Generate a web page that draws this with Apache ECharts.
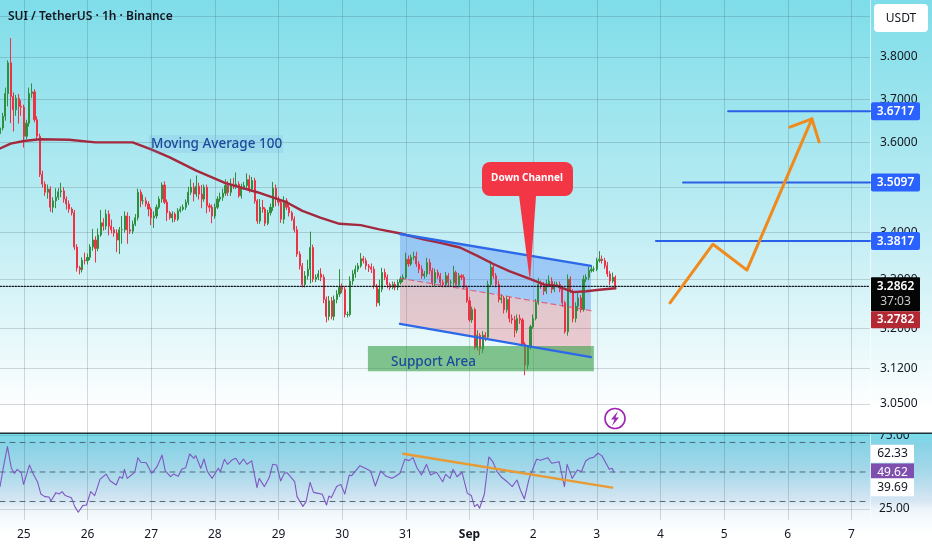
<!DOCTYPE html>
<html><head><meta charset="utf-8">
<style>html,body{margin:0;padding:0;background:#fff}#c{width:932px;height:550px}</style>
<script src="https://cdn.jsdelivr.net/npm/echarts@6/dist/echarts.min.js"></script>
</head><body><div id="c"></div>
<script>
// hours are counted from 25 Aug 00:00; first visible bar is hour -9
const dayHours=[0,24,48,72,96,120,144,168,192,216,240,264,288,312];
const dayLabels=['25','26','27','28','29','30','31','Sep','2','3','4','5','6','7'];
const priceTicks=[3.05,3.12,3.2,3.3,3.4,3.5,3.6,3.7,3.8,3.9];
const rsiTicks=[25,75];
const firstOpen=3.62;
const closes=[3.633,3.660,3.713,3.786,3.706,3.675,3.702,3.683,3.681,3.614,
3.644,3.713,3.717,3.652,3.614,3.528,3.506,3.488,3.495,3.455,
3.469,3.477,3.489,3.491,3.473,3.462,3.451,3.443,3.369,3.325,
3.321,3.341,3.340,3.347,3.369,3.384,3.366,3.395,3.421,3.414,
3.440,3.414,3.406,3.399,3.384,3.406,3.406,3.436,3.406,3.403,
3.418,3.432,3.488,3.469,3.469,3.462,3.451,3.432,3.436,3.455,
3.473,3.504,3.466,3.443,3.432,3.440,3.429,3.447,3.451,3.455,
3.466,3.488,3.499,3.484,3.501,3.484,3.473,3.499,3.458,3.455,
3.436,3.455,3.473,3.477,3.486,3.503,3.488,3.506,3.503,3.506,
3.480,3.499,3.503,3.516,3.495,3.514,3.469,3.425,3.455,3.451,
3.420,3.443,3.455,3.497,3.473,3.466,3.429,3.469,3.455,3.443,
3.429,3.406,3.354,3.329,3.290,3.308,3.322,3.368,3.301,3.305,
3.312,3.305,3.259,3.224,3.256,3.224,3.259,3.270,3.284,3.280,
3.228,3.228,3.297,3.312,3.322,3.329,3.344,3.340,3.329,3.326,
3.322,3.287,3.252,3.280,3.315,3.305,3.290,3.284,3.290,3.284,
3.294,3.301,3.305,3.343,3.333,3.347,3.349,3.333,3.322,3.308,
3.312,3.336,3.319,3.294,3.315,3.308,3.294,3.290,3.308,3.294,
3.294,3.315,3.290,3.308,3.305,3.284,3.256,3.217,3.238,3.161,
3.186,3.158,3.186,3.182,3.290,3.326,3.308,3.290,3.259,3.262,
3.238,3.259,3.220,3.217,3.196,3.220,3.217,3.168,3.126,3.161,
3.203,3.220,3.252,3.290,3.287,3.276,3.290,3.297,3.280,3.290,
3.290,3.280,3.252,3.193,3.301,3.276,3.220,3.245,3.262,3.238,
3.301,3.305,3.319,3.322,3.322,3.340,3.343,3.340,3.329,3.312,
3.297,3.305,3.2862];
// wick lengths in thousandths of a USDT
const wickUp=[6,8,14,6,60,10,8,10,14,6,
8,14,20,6,8,6,8,6,10,6,
8,20,8,18,8,6,8,4,6,6,
4,6,16,8,6,24,8,14,28,10,
10,8,14,6,8,6,30,10,8,30,
8,8,8,6,14,8,6,4,10,6,
6,6,8,6,4,6,4,6,6,6,
6,12,18,10,24,8,20,6,6,6,
6,8,6,10,10,14,10,12,14,26,
6,8,8,14,10,8,6,4,18,16,
4,6,8,14,8,6,4,10,6,6,
4,6,8,6,6,10,20,34,6,6,
8,12,6,6,10,8,8,8,38,8,
6,6,10,8,8,6,12,6,6,4,
8,6,4,20,10,8,6,4,6,6,
6,6,6,14,8,6,10,10,6,8,
6,10,8,6,8,6,6,6,8,6,
6,14,4,6,4,6,4,8,6,4,
10,4,8,6,8,14,6,6,8,8,
4,8,6,8,8,8,8,4,4,4,
4,8,8,14,8,8,10,12,8,6,
6,6,6,4,10,6,4,8,10,6,
8,6,8,8,6,6,17,8,6,8,
6,10,4];
const wickDown=[8,6,10,30,62,50,14,40,20,26,
6,8,10,6,8,6,8,8,14,10,
12,16,6,12,8,12,8,6,6,8,
10,6,8,8,6,8,30,6,4,10,
8,20,8,8,26,30,30,6,30,6,
6,4,6,14,8,6,16,16,22,6,
4,8,4,18,4,10,6,4,4,4,
6,6,6,16,6,12,20,6,16,10,
16,6,4,6,8,6,8,8,8,8,
4,6,6,6,8,6,6,6,6,8,
6,4,6,8,16,8,8,10,6,8,
4,6,6,8,6,6,8,30,6,6,
6,8,8,12,8,6,8,8,6,8,
6,6,4,8,8,6,4,6,8,10,
8,6,8,6,6,6,8,6,4,6,
6,4,6,4,6,4,6,6,8,6,
6,6,8,6,8,6,8,6,6,8,
8,6,6,6,6,4,4,4,6,4,
6,12,8,8,4,4,6,6,6,8,
8,6,8,8,14,6,8,4,20,8,
4,4,4,4,6,8,6,6,8,6,
6,6,8,4,8,4,8,8,10,6,
4,6,6,4,6,4,4,6,6,6,
8,4,6];
const maHours=[-9,-5,0,6,17,27,41,48,55,65,76,88,99,105,112,119,127,134,142,151,157,164.4,171,177,183,191,196,201,207,212,217,223];
const maPrices=[3.586,3.597,3.603,3.607,3.606,3.600,3.600,3.584,3.566,3.536,3.508,3.488,3.466,3.447,3.432,3.419,3.416,3.407,3.398,3.385,3.378,3.368,3.350,3.333,3.318,3.301,3.290,3.287,3.274,3.276,3.279,3.282];
const rsiHours=[-9,-7.8,-6.2,-4.7,-3.6,-2.5,-1,-0.1,2.1,3.6,5.2,6.4,7.9,9.5,10.2,12.1,13.3,14.4,15.6,17.9,19.2,20.5,22.2,23.6,25.2,26.7,28.7,31,32.5,34.8,36.1,37.2,37.9,39,41.8,43,44.1,46.1,48.2,50.2,52.1,53.3,55.3,56.4,58.2,59.5,61,62.5,64.1,64.8,66.7,67.9,69.2,71,73.3,74.1,75.6,76.8,78.4,79.9,81.3,82.8,84.1,85.9,87.9,88.7,90.7,92.5,93.8,95.3,96.8,98.2,99.2,102.1,103,105.2,106.4,107.9,109.2,111,112.5,114.1,115,115.9,117.9,119.5,121,122.7,123.6,126.7,128.7,130.7,132.5,134.5,136.4,138.7,139.9,141.8,143.6,145.2,146.7,148.2,149.9,151.8,153.3,155.6,157.9,159,160.7,161.8,163.3,165.2,167.2,168.7,169.9,171,171.8,173.6,175.3,176.8,178.4,179.9,182.2,184.1,185.9,187.2,188.7,190.5,193.3,194.8,197.5,199,201.8,203.8,204.8,206.7,208.7,210.2,211.8,213.3,214.8,216.4,217.9,220.7,221.8,222.5];
const rsiValues=[40.1,52.5,67.2,52.5,49.1,51.8,49.5,41.6,54.7,48.4,43,35.1,33.3,33,30.3,36,35.1,36.7,34,32.6,26.5,22.7,27.2,27.6,36.7,34,45,48.6,44.1,41.2,46.8,45.7,51.8,45.7,49.8,59.7,56.6,56.3,49.1,53.6,61.5,50.7,46.8,48.6,47.1,51.8,52.9,62.2,59.3,61.1,52.5,58.8,50.2,45.7,52.5,50.2,58.6,55.2,58.1,59.3,55.2,58.8,55.2,57.5,39.4,45.7,40.1,46.2,55.2,54.7,43.9,49.1,49.5,43.4,33.3,26.7,29.9,43,36.2,35.5,34.9,27.6,33.7,32.6,40.1,41.6,35.1,48,47.5,54.3,52.5,50.7,40.5,50.7,47.3,45.7,46.8,49.1,58.6,57.7,59.7,52.9,48,55.2,48,49.8,43.4,48.4,45.7,51.8,46.8,49.8,35.5,34,26.5,28.1,25.4,34.9,60.2,57,50.2,46.8,43.4,40.1,44.6,37.8,31.7,45.7,58.6,57.9,59.7,55.9,57,40.1,55.2,45.7,51.4,50.2,57.5,59.3,59.9,62.7,61.1,51.8,52.5,49.62];
// drawings: [hour, price]
const channelTop=[[141.8,3.397],[213.8,3.329]];
const channelMid=[[141.8,3.303],[213.8,3.236]];
const channelBottom=[[141.8,3.209],[213.8,3.142]];
const supportArea=[[129.7,3.164],[214.9,3.114]];
const forecastPath=[[243.6,3.252],[259.8,3.375],[272.6,3.320],[297.1,3.654]];
const forecastHead=[[288.8,3.635],[297.1,3.654],[299.8,3.601]];
const calloutTip=[[186.7,3.480],[193.1,3.480],[190.8,3.296]];
const levelPrices=[3.3817,3.5097,3.6717];
const levelStarts=[238.3,248.5,265.5];
const lastPrice=3.2862;
const rsiTrend=[[143,62.4],[221.8,39.4]];
const rsiLevels=[70,50,30];
const xMin=-9,xMax=319;

const C_UP='#2f8f3f',C_DN='#ee3245',FONT='"Noto Sans",sans-serif';
const candles=closes.map((c,i)=>{
  const o=i?closes[i-1]:firstOpen;
  return [i+xMin,o,c,+(Math.min(o,c)-wickDown[i]/1000).toFixed(3),+(Math.max(o,c)+wickUp[i]/1000).toFixed(3)];
});
const zip=(a,b)=>a.map((v,i)=>[v,b[i]]);
const seg=(data,color,width,z,type,xi,yi)=>({type:'line',data,xAxisIndex:xi||0,yAxisIndex:yi||0,symbol:'none',silent:true,z,
  lineStyle:{color,width,type:type||'solid',cap:'round',join:'round'}});
const poly=(pts,fill,z)=>({type:'custom',data:[[pts[0][0],pts[0][1]]],z,silent:true,
  renderItem:(p,api)=>({type:'polygon',shape:{points:pts.map(q=>api.coord(q))},style:{fill}})});
const axisTag=(price,text,fill,color,h,w)=>({type:'custom',data:[[xMax,price]],z:20,silent:true,clip:false,
  renderItem:(p,api)=>{const a=api.coord([xMax,price]);const x=a[0]+1,y=a[1]-h/2;
    return {type:'group',children:[
      {type:'rect',shape:{x,y,width:w,height:h,r:2},style:{fill}},
      {type:'text',style:{text,x:x+w/2,y:a[1],fill:color,font:'600 12px '+FONT,align:'center',verticalAlign:'middle'}}
    ]};}});

const GRID='rgba(50,70,80,0.2)';
const opt={animation:false,backgroundColor:'#fff',
 grid:[{left:0,right:62,top:0,height:433},{left:0,right:62,top:434,height:86}],
 xAxis:[0,1].map(i=>({type:'value',gridIndex:i,min:xMin,max:xMax,
   axisLine:{show:false},axisTick:{show:false,customValues:dayHours},
   axisLabel:{show:i===1,customValues:dayHours,margin:9,color:'#131722',fontFamily:FONT,fontSize:12,
     formatter:v=>{const s=dayLabels[dayHours.indexOf(v)];return s==='Sep'?'{b|Sep}':s;},
     rich:{b:{fontWeight:'bold',fontFamily:FONT,fontSize:12,color:'#131722'}}},
   splitLine:{show:true,lineStyle:{color:GRID,width:1}}})),
 yAxis:[
  {type:'log',gridIndex:0,position:'right',min:2.9945,max:3.9398,
   axisLine:{show:false},axisTick:{show:false,customValues:priceTicks},
   axisLabel:{customValues:priceTicks,margin:10,color:'#131722',fontFamily:FONT,fontSize:12,formatter:v=>(+v).toFixed(4)},
   splitLine:{show:true,lineStyle:{color:GRID,width:1}}},
  {type:'value',gridIndex:1,position:'right',min:17.46,max:75.75,
   axisLine:{show:false},axisTick:{show:false,customValues:rsiTicks},
   axisLabel:{customValues:rsiTicks,margin:9,color:'#131722',fontFamily:FONT,fontSize:12,formatter:v=>(+v).toFixed(2)},
   splitLine:{show:true,lineStyle:{color:'rgba(50,70,80,0.18)',width:1}}}
 ],
 graphic:[
  {type:'rect',z:-10,silent:true,shape:{x:0,y:0,width:932,height:433},style:{fill:{type:'linear',x:0,y:0,x2:0,y2:1,colorStops:[{offset:0,color:'#7edde9'},{offset:.5,color:'#bcecf3'},{offset:.95,color:'#ffffff'},{offset:1,color:'#ffffff'}]}}},
  {type:'rect',z:-10,silent:true,shape:{x:0,y:434,width:932,height:100},style:{fill:{type:'linear',x:0,y:0,x2:0,y2:1,colorStops:[{offset:0,color:'#76dde9'},{offset:.1,color:'#88d2e6'},{offset:.4,color:'#a9d9ea'},{offset:.67,color:'#d7e6f3'},{offset:.76,color:'#eef6fa'},{offset:1,color:'#ffffff'}]}}},
  {type:'rect',z:100,silent:true,shape:{x:870,y:424,width:62,height:9},style:{fill:'#ffffff'}},
  {type:'rect',z:101,silent:true,shape:{x:0,y:432.5,width:932,height:1.6},style:{fill:'#1f3038'}},
  {type:'rect',z:5,silent:true,shape:{x:870,y:0,width:1,height:520},style:{fill:'rgba(255,255,255,.6)'}},
  {type:'text',z:50,silent:true,style:{text:'SUI / TetherUS · 1h · Binance',x:8,y:17,fill:'#131722',font:'600 12px '+FONT,verticalAlign:'middle'}},
  {type:'rect',z:6,silent:true,shape:{x:874,y:4,width:54,height:28,r:4},style:{fill:'#fff'}},
  {type:'text',z:7,silent:true,style:{text:'USDT',x:901,y:19,fill:'#131722',font:'12px '+FONT,align:'center',verticalAlign:'middle'}},
  {type:'rect',z:6,silent:true,shape:{x:149,y:135,width:134,height:18,r:1},style:{fill:'rgba(90,140,220,.13)'}},
  {type:'text',z:7,silent:true,style:{text:'Moving Average 100',x:151,y:144,fill:'#1a4a9c',font:'500 13.5px '+FONT,verticalAlign:'middle'}},
  {type:'text',z:30,silent:true,style:{text:'Support Area',x:391,y:362,fill:'#1a4a9c',font:'500 13.5px '+FONT,verticalAlign:'middle'}},
  {type:'rect',z:12,silent:true,shape:{x:482,y:162,width:91,height:34,r:8},style:{fill:'#f23645'}},
  {type:'text',z:13,silent:true,style:{text:'Down Channel',x:527,y:178,fill:'#fff',font:'bold 10px '+FONT,align:'center',verticalAlign:'middle'}},
  {type:'circle',z:12,silent:true,shape:{cx:615,cy:418.5,r:10},style:{fill:'rgba(255,255,255,.6)',stroke:'#9c27b0',lineWidth:1.6}},
  {type:'polygon',z:13,silent:true,shape:{points:[[618,411],[611,419.5],[614.5,419.5],[612,426],[619,417.5],[615.5,417.5]]},style:{fill:'#9c27b0'}}
 ],
 series:[
  poly([channelTop[0],channelTop[1],channelMid[1],channelMid[0]],'rgba(70,130,245,.36)',1),
  poly([channelMid[0],channelMid[1],channelBottom[1],channelBottom[0]],'rgba(242,54,69,.24)',1),
  {type:'candlestick',data:candles,barWidth:1.6,z:2,silent:true,clip:true,
   itemStyle:{color:C_UP,color0:C_DN,borderColor:C_UP,borderColor0:C_DN,borderWidth:1}},
  poly([supportArea[0],[supportArea[1][0],supportArea[0][1]],supportArea[1],[supportArea[0][0],supportArea[1][1]]],'rgba(60,160,75,.62)',3),
  seg(zip(maHours,maPrices),'#a32a3e',2.4,4),
  seg(channelMid,'rgba(225,70,100,.75)',1.2,4,[5,4]),
  seg(channelTop,'#2d68e8',2.4,5),
  seg(channelBottom,'#2d68e8',2.4,5),
  seg([[xMin,lastPrice],[xMax,lastPrice]],'#131722',1.2,5,[1.5,1.5]),
  ...levelPrices.map((p,i)=>seg([[levelStarts[i],p],[xMax,p]],'#2a5fe8',2,5)),
  seg(forecastPath,'#f08a1c',3,6),
  seg(forecastHead,'#f08a1c',3,6),
  poly(calloutTip,'#f23645',11),
  seg(zip(rsiHours,rsiValues),'#7e57c2',1.1,4,null,1,1),
  ...rsiLevels.map(l=>seg([[xMin,l],[xMax,l]],'#4f6b78',1,3,[5,5],1,1)),
  seg(rsiTrend,'#e89a35',2.4,6,null,1,1),
  axisTag(levelPrices[2],'3.6717','#2962ff','#fff',18,49),
  axisTag(levelPrices[1],'3.5097','#2962ff','#fff',18,49),
  axisTag(levelPrices[0],'3.3817','#2962ff','#fff',18,49)
 ]
};
// last-price and RSI tags
opt.series.push(
  {type:'custom',data:[[xMax,lastPrice]],z:20,silent:true,clip:false,renderItem:(p,api)=>{
    const a=api.coord([xMax,lastPrice]);const x=a[0]+1,y=a[1]-9;
    return {type:'group',children:[
      {type:'rect',shape:{x,y,width:49,height:34,r:1},style:{fill:'#050505'}},
      {type:'text',style:{text:'3.2862',x:x+24.5,y:a[1],fill:'#fff',font:'600 12px '+FONT,align:'center',verticalAlign:'middle'}},
      {type:'text',style:{text:'37:03',x:x+24.5,y:a[1]+15,fill:'#c9c9c9',font:'12px '+FONT,align:'center',verticalAlign:'middle'}},
      {type:'rect',shape:{x,y:y+34,width:49,height:17,r:1},style:{fill:'#b22833'}},
      {type:'text',style:{text:'3.2782',x:x+24.5,y:y+42.5,fill:'#fff',font:'600 12px '+FONT,align:'center',verticalAlign:'middle'}}
    ]};}},
  {type:'custom',xAxisIndex:1,yAxisIndex:1,data:[[xMax,50]],z:20,silent:true,clip:false,renderItem:(p,api)=>{
    const x=api.coord([xMax,62.33])[0]+1;const ys=[62.33,49.62,39.69].map(v=>api.coord([xMax,v])[1]);
    const mk=(t,y,f,c)=>[{type:'rect',shape:{x,y:y-9,width:43,height:18},style:{fill:f}},
      {type:'text',style:{text:t,x:x+21.5,y,fill:c,font:'12px '+FONT,align:'center',verticalAlign:'middle'}}];
    return {type:'group',children:[...mk('62.33',ys[0],'#fff','#131722'),...mk('49.62',ys[1],'#7e4fae','#fff'),...mk('39.69',ys[2],'#fff','#131722')]};
  }}
);
echarts.init(document.getElementById('c'),null,{renderer:'canvas'}).setOption(opt);
</script></body></html>
